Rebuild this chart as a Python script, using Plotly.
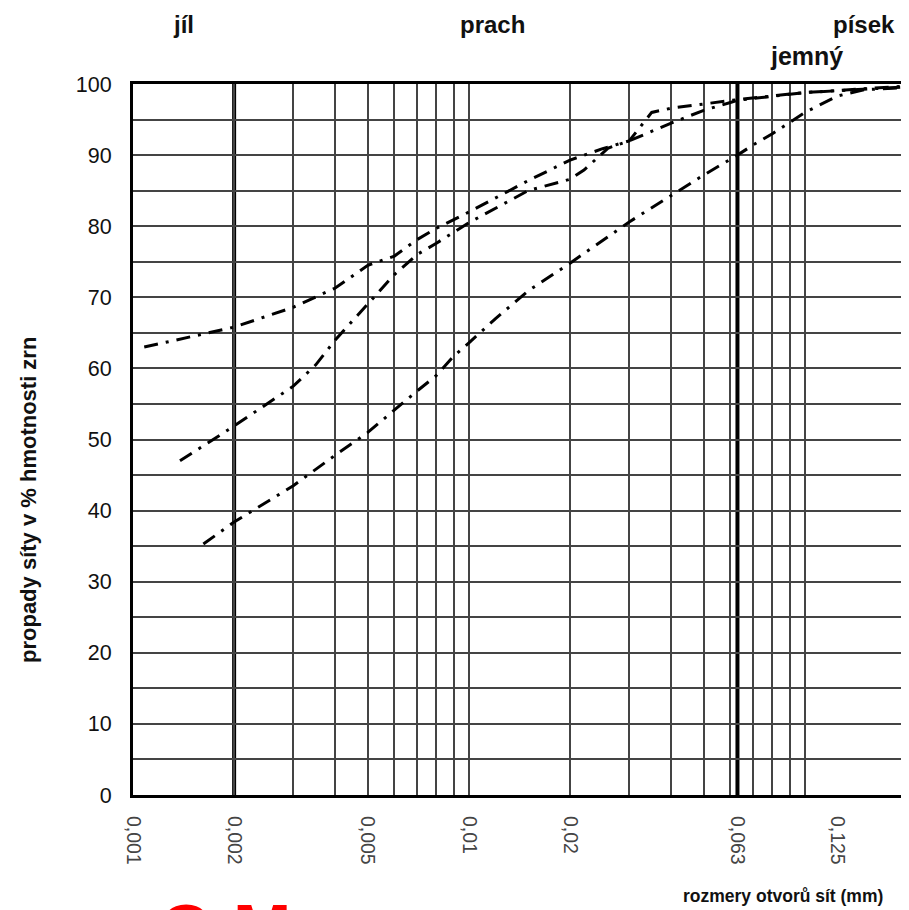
import math
import plotly.graph_objects as go

# ---- data (grain size in mm, passing %) ----
size_a = [0.00108, 0.002, 0.003, 0.004, 0.005, 0.006, 0.007, 0.008, 0.01, 0.015,
          0.02, 0.025, 0.03, 0.035, 0.04, 0.05, 0.063, 0.1, 0.2]
pass_a = [63.0, 65.8, 68.6, 71.3, 74.5, 75.8, 78.1, 79.7, 82.0, 86.4,
          89.3, 90.9, 92.0, 96.0, 96.6, 97.2, 97.8, 98.8, 99.7]

size_b = [0.00138, 0.002, 0.003, 0.0035, 0.004, 0.005, 0.006, 0.007, 0.008, 0.01,
          0.015, 0.02, 0.022, 0.026, 0.03, 0.04, 0.05, 0.06, 0.063, 0.1, 0.2]
pass_b = [47.0, 51.9, 57.5, 60.5, 64.0, 69.0, 73.2, 76.0, 77.6, 80.5,
          85.0, 86.6, 87.9, 91.0, 92.0, 94.5, 96.3, 97.4, 97.7, 98.8, 99.6]

size_c = [0.00162, 0.002, 0.003, 0.004, 0.005, 0.006, 0.007, 0.008, 0.009, 0.01,
          0.012, 0.015, 0.02, 0.03, 0.04, 0.05, 0.063, 0.07, 0.08, 0.09, 0.1,
          0.125, 0.15, 0.2]
pass_c = [35.3, 38.4, 43.5, 47.8, 51.0, 54.2, 56.8, 59.0, 61.7, 63.6,
          67.0, 70.9, 74.8, 80.6, 84.3, 87.2, 90.0, 91.4, 93.0, 94.6, 96.0,
          98.3, 99.2, 99.5]

x_label_vals = [0.001, 0.002, 0.005, 0.01, 0.02, 0.063, 0.125]
x_label_text = ["0,001", "0,002", "0,005", "0,01", "0,02", "0,063", "0,125"]
x_grid_vals = [0.001, 0.002, 0.003, 0.004, 0.005, 0.006, 0.007, 0.008, 0.009,
               0.01, 0.02, 0.03, 0.04, 0.05, 0.06, 0.07, 0.08, 0.09, 0.1]
class_bounds = [0.002, 0.063]
x_range = [0.001, 0.2]

y_grid_vals = list(range(0, 101, 5))
y_grid_text = [str(v) if v % 10 == 0 else "" for v in y_grid_vals]

FONT = "Liberation Sans, Arial, sans-serif"
dash_pat = "14px,8px,3px,8px"

fig = go.Figure()
for xs, ys in [(size_a, pass_a), (size_b, pass_b), (size_c, pass_c)]:
    fig.add_trace(go.Scatter(x=xs, y=ys, mode="lines",
                             line=dict(color="black", width=3, dash=dash_pat),
                             showlegend=False, hoverinfo="skip"))

# helper invisible trace for the grid axis
fig.add_trace(go.Scatter(x=x_range, y=[0, 0], xaxis="x2", mode="markers",
                         marker=dict(opacity=0), showlegend=False, hoverinfo="skip"))

for b in class_bounds:
    fig.add_shape(type="line", xref="x", yref="y domain", x0=b, x1=b, y0=0, y1=1,
                  line=dict(color="black", width=4), layer="below")

lr = [math.log10(x_range[0]), math.log10(x_range[1])]

# page has an 8px body margin: figure is 901x902 drawn from (8,8)
fig.update_layout(
    width=901, height=902,
    margin=dict(l=125, r=3, t=76, b=115, autoexpand=False),
    paper_bgcolor="white", plot_bgcolor="white",
    font=dict(family=FONT, color="#111"),
    xaxis=dict(type="log", range=lr, tickvals=x_label_vals, ticktext=x_label_text,
               tickangle=90, showgrid=False, zeroline=False,
               showline=True, mirror=True, linewidth=3, linecolor="black",
               ticks="", ticklabelstandoff=14,
               tickfont=dict(size=19.5, color="#444", family=FONT)),
    xaxis2=dict(type="log", range=lr, overlaying="x", tickvals=x_grid_vals,
                showticklabels=False, showgrid=True, gridcolor="#444", gridwidth=1.6,
                zeroline=False, showline=False, ticks=""),
    yaxis=dict(range=[0, 100], tickvals=y_grid_vals, ticktext=y_grid_text,
               showgrid=True, gridcolor="#444", gridwidth=1.6, zeroline=False,
               showline=True, mirror=True, linewidth=3, linecolor="black",
               ticks="", ticklabelstandoff=14,
               tickfont=dict(size=21.5, color="#111", family=FONT)),
)

ann = [
    dict(text="<b>jíl</b>", x=(183 - 133) / 773, y=(795 - 25) / 711, size=24),
    dict(text="<b>prach</b>", x=(492 - 133) / 773, y=(795 - 25) / 711, size=24),
    dict(text="<b>písek</b>", x=(864 - 133) / 773, y=(795 - 25) / 711, size=24),
    dict(text="<b>jemný</b>", x=(806 - 133) / 773, y=(795 - 56) / 711, size=25),
    dict(text="<b>rozmery otvorů sít (mm)</b>", x=(783 - 133) / 773, y=(795 - 896) / 711, size=17.5),
]
for a in ann:
    fig.add_annotation(text=a["text"], x=a["x"], y=a["y"], xref="paper", yref="paper",
                       showarrow=False, xanchor="center", yanchor="middle",
                       font=dict(size=a["size"], color="#111", family=FONT))

fig.add_annotation(text="<b>propady síty v % hmotnosti zrn</b>", textangle=-90,
                   x=(28 - 133) / 773, y=(795 - 500) / 711, xref="paper", yref="paper",
                   showarrow=False, xanchor="center", yanchor="middle",
                   font=dict(size=22, color="#111", family=FONT))

fig.add_annotation(text="<b>O M</b>", x=(157 - 133) / 773, y=(795 - 889) / 711,
                   xref="paper", yref="paper", showarrow=False,
                   xanchor="left", yanchor="top",
                   font=dict(size=70, color="#ff0000", family=FONT))

fig.write_html("out.html")
